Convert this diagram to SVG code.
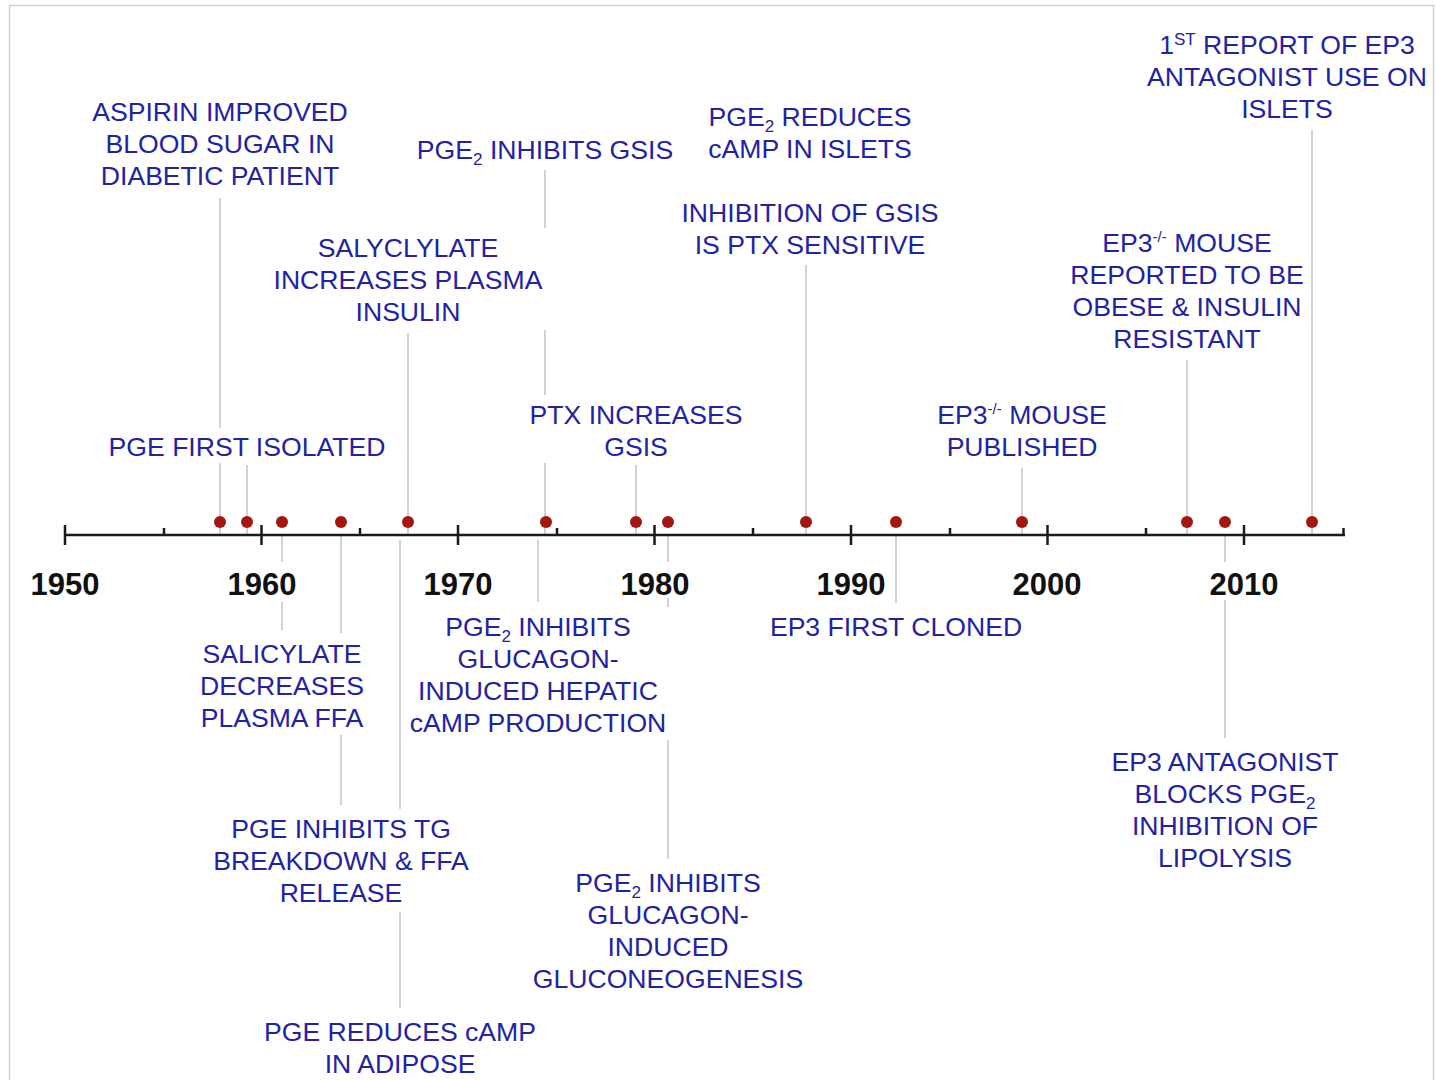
<svg xmlns="http://www.w3.org/2000/svg" width="1436" height="1080" viewBox="0 0 1436 1080">
<style>
.lbl{font-family:"Liberation Sans",Arial,sans-serif;font-size:26.6px;fill:#2222a2;text-anchor:middle}
.yr{font-family:"Liberation Sans",Arial,sans-serif;font-size:31px;font-weight:bold;fill:#111;text-anchor:middle}
.con line{stroke:#d2d2d2;stroke-width:2}
.axis line{stroke:#1a1a1a;stroke-width:2.5}
.dot{fill:#a3170f}
</style>
<rect x="9.5" y="5.5" width="1424" height="1100" fill="#fff" stroke="#cfcfcf" stroke-width="1.5"/>
<g id="connectors" class="con">
<line x1="220" y1="198" x2="220" y2="428"/><line x1="220" y1="463" x2="220" y2="535"/>
<line x1="247" y1="465" x2="247" y2="535"/>
<line x1="282" y1="535" x2="282" y2="562"/><line x1="282" y1="602" x2="282" y2="630"/>
<line x1="341" y1="535" x2="341" y2="633"/><line x1="341" y1="735" x2="341" y2="805"/>
<line x1="408" y1="333" x2="408" y2="535"/>
<line x1="400" y1="540" x2="400" y2="809"/><line x1="400" y1="912" x2="400" y2="1008"/>
<line x1="545" y1="170" x2="545" y2="228"/><line x1="545" y1="330" x2="545" y2="395"/><line x1="545" y1="463" x2="545" y2="535"/>
<line x1="538" y1="540" x2="538" y2="602"/>
<line x1="636" y1="465" x2="636" y2="535"/>
<line x1="668" y1="535" x2="668" y2="562"/><line x1="668" y1="598" x2="668" y2="607"/><line x1="668" y1="740" x2="668" y2="859"/>
<line x1="806" y1="265" x2="806" y2="535"/>
<line x1="896" y1="535" x2="896" y2="603"/>
<line x1="1022" y1="468" x2="1022" y2="535"/>
<line x1="1187" y1="360" x2="1187" y2="535"/>
<line x1="1225" y1="535" x2="1225" y2="562"/><line x1="1225" y1="600" x2="1225" y2="738"/>
<line x1="1312" y1="130" x2="1312" y2="535"/>
</g>
<g id="axis" class="axis">
<line x1="65" y1="535" x2="1345" y2="535"/>
<line x1="65" y1="525" x2="65" y2="545"/>
<line x1="261.5" y1="525" x2="261.5" y2="545"/>
<line x1="458" y1="525" x2="458" y2="545"/>
<line x1="654.5" y1="525" x2="654.5" y2="545"/>
<line x1="851" y1="525" x2="851" y2="545"/>
<line x1="1047.5" y1="525" x2="1047.5" y2="545"/>
<line x1="1244" y1="525" x2="1244" y2="545"/>
<line x1="164" y1="528" x2="164" y2="535"/>
<line x1="360" y1="528" x2="360" y2="535"/>
<line x1="557" y1="528" x2="557" y2="535"/>
<line x1="753" y1="528" x2="753" y2="535"/>
<line x1="950" y1="528" x2="950" y2="535"/>
<line x1="1146" y1="528" x2="1146" y2="535"/>
<line x1="1343.5" y1="528" x2="1343.5" y2="535"/>
</g>
<g id="years">
<text class="yr" x="65" y="595">1950</text>
<text class="yr" x="262" y="595">1960</text>
<text class="yr" x="458" y="595">1970</text>
<text class="yr" x="655" y="595">1980</text>
<text class="yr" x="851" y="595">1990</text>
<text class="yr" x="1047" y="595">2000</text>
<text class="yr" x="1244" y="595">2010</text>
</g>
<g id="dots">
<circle class="dot" cx="220" cy="522" r="6"/>
<circle class="dot" cx="247" cy="522" r="6"/>
<circle class="dot" cx="282" cy="522" r="6"/>
<circle class="dot" cx="341" cy="522" r="6"/>
<circle class="dot" cx="408" cy="522" r="6"/>
<circle class="dot" cx="546" cy="522" r="6"/>
<circle class="dot" cx="636" cy="522" r="6"/>
<circle class="dot" cx="668" cy="522" r="6"/>
<circle class="dot" cx="806" cy="522" r="6"/>
<circle class="dot" cx="896" cy="522" r="6"/>
<circle class="dot" cx="1022" cy="522" r="6"/>
<circle class="dot" cx="1187" cy="522" r="6"/>
<circle class="dot" cx="1225" cy="522" r="6"/>
<circle class="dot" cx="1312" cy="522" r="6"/>
</g>
<g id="n-aspirin"><text class="lbl"><tspan x="220" y="121">ASPIRIN IMPROVED</tspan><tspan x="220" y="153">BLOOD SUGAR IN</tspan><tspan x="220" y="185">DIABETIC PATIENT</tspan></text></g>
<g id="n-pge-isolated"><text class="lbl" x="247" y="456">PGE FIRST ISOLATED</text></g>
<g id="n-salyclylate"><text class="lbl"><tspan x="408" y="257">SALYCLYLATE</tspan><tspan x="408" y="289">INCREASES PLASMA</tspan><tspan x="408" y="321">INSULIN</tspan></text></g>
<g id="n-pge2-gsis"><text class="lbl" x="545" y="159">PGE<tspan font-size="17" dy="6">2</tspan><tspan dy="-6"> INHIBITS GSIS</tspan></text></g>
<g id="n-pge2-islets"><text class="lbl"><tspan x="810" y="126">PGE<tspan font-size="17" dy="6">2</tspan><tspan dy="-6"> REDUCES</tspan></tspan><tspan x="810" y="158">cAMP IN ISLETS</tspan></text></g>
<g id="n-ptx-sensitive"><text class="lbl"><tspan x="810" y="222">INHIBITION OF GSIS</tspan><tspan x="810" y="254">IS PTX SENSITIVE</tspan></text></g>
<g id="n-ptx-increases"><text class="lbl"><tspan x="636" y="424">PTX INCREASES</tspan><tspan x="636" y="456">GSIS</tspan></text></g>
<g id="n-ep3-published"><text class="lbl"><tspan x="1022" y="424">EP3<tspan font-size="15" dy="-10">-/-</tspan><tspan dy="10"> MOUSE</tspan></tspan><tspan x="1022" y="456">PUBLISHED</tspan></text></g>
<g id="n-ep3-obese"><text class="lbl"><tspan x="1187" y="252">EP3<tspan font-size="15" dy="-10">-/-</tspan><tspan dy="10"> MOUSE</tspan></tspan><tspan x="1187" y="284">REPORTED TO BE</tspan><tspan x="1187" y="316">OBESE &amp; INSULIN</tspan><tspan x="1187" y="348">RESISTANT</tspan></text></g>
<g id="n-ep3-antagonist-islets"><text class="lbl"><tspan x="1287" y="54">1<tspan font-size="17" dy="-9">ST</tspan><tspan dy="9"> REPORT OF EP3</tspan></tspan><tspan x="1287" y="86">ANTAGONIST USE ON</tspan><tspan x="1287" y="118">ISLETS</tspan></text></g>
<g id="n-salicylate-ffa"><text class="lbl"><tspan x="282" y="663">SALICYLATE</tspan><tspan x="282" y="695">DECREASES</tspan><tspan x="282" y="727">PLASMA FFA</tspan></text></g>
<g id="n-pge-tg"><text class="lbl"><tspan x="341" y="838">PGE INHIBITS TG</tspan><tspan x="341" y="870">BREAKDOWN &amp; FFA</tspan><tspan x="341" y="902">RELEASE</tspan></text></g>
<g id="n-pge-adipose"><text class="lbl"><tspan x="400" y="1041">PGE REDUCES cAMP</tspan><tspan x="400" y="1073">IN ADIPOSE</tspan></text></g>
<g id="n-pge2-hepatic"><text class="lbl"><tspan x="538" y="636">PGE<tspan font-size="17" dy="6">2</tspan><tspan dy="-6"> INHIBITS</tspan></tspan><tspan x="538" y="668">GLUCAGON-</tspan><tspan x="538" y="700">INDUCED HEPATIC</tspan><tspan x="538" y="732">cAMP PRODUCTION</tspan></text></g>
<g id="n-pge2-gluconeo"><text class="lbl"><tspan x="668" y="892">PGE<tspan font-size="17" dy="6">2</tspan><tspan dy="-6"> INHIBITS</tspan></tspan><tspan x="668" y="924">GLUCAGON-</tspan><tspan x="668" y="956">INDUCED</tspan><tspan x="668" y="988">GLUCONEOGENESIS</tspan></text></g>
<g id="n-ep3-cloned"><text class="lbl" x="896" y="636">EP3 FIRST CLONED</text></g>
<g id="n-ep3-lipolysis"><text class="lbl"><tspan x="1225" y="771">EP3 ANTAGONIST</tspan><tspan x="1225" y="803">BLOCKS PGE<tspan font-size="17" dy="6">2</tspan></tspan><tspan x="1225" y="835">INHIBITION OF</tspan><tspan x="1225" y="867">LIPOLYSIS</tspan></text></g>
</svg>
